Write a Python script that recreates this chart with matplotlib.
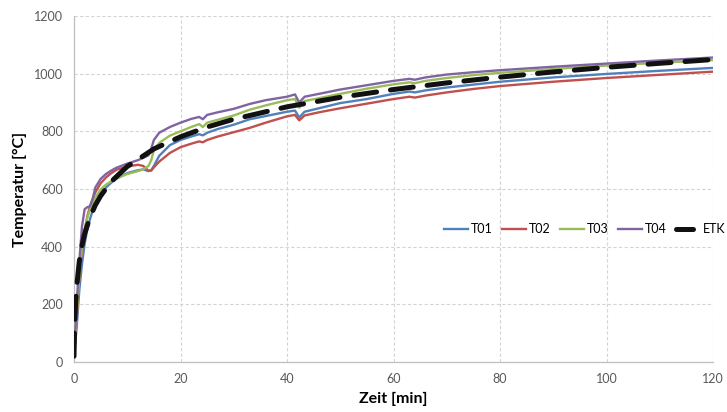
import matplotlib
matplotlib.use("Agg")
import matplotlib.pyplot as plt
from matplotlib.lines import Line2D

plt.rcParams['font.family'] = ['Lato', 'DejaVu Sans']

# Measurement times [min] for the thermocouples
zeit = [0, 0.5, 1, 1.5, 2, 2.5, 3, 3.5, 4, 5, 6, 7, 8, 10, 12, 13, 14, 14.5, 15, 16,
        18, 20, 22, 23.5, 24.2, 25, 27, 30, 33, 36, 40, 41.5, 42.3, 43.3, 46, 50, 55,
        60, 63, 64, 66, 70, 75, 80, 90, 100, 110, 120]

t01 = [20, 120, 250, 340, 410, 460, 495, 525, 548, 583, 605, 622, 636, 655, 665, 668, 662, 665, 680, 715,
       752, 770, 782, 790, 786, 795, 808, 823, 842, 853, 868, 872, 848, 868, 880, 898, 912,
       930, 938, 935, 942, 952, 962, 972, 987, 999, 1010, 1020]

t02 = [20, 150, 290, 390, 455, 505, 540, 565, 588, 620, 640, 655, 667, 678, 684, 680, 663, 664, 675, 695,
       725, 745, 757, 765, 762, 770, 782, 797, 812, 830, 852, 857, 838, 855, 866, 880, 896,
       912, 920, 917, 924, 935, 947, 957, 972, 985, 996, 1007]

t03 = [20, 160, 300, 400, 460, 500, 528, 550, 570, 598, 615, 627, 637, 652, 662, 668, 680, 700, 735, 760,
       785, 800, 815, 825, 815, 830, 840, 855, 875, 890, 908, 912, 882, 905, 915, 930, 948,
       963, 970, 967, 975, 985, 995, 1003, 1016, 1028, 1038, 1047]

t04 = [20, 200, 350, 470, 530, 537, 540, 565, 605, 635, 652, 664, 674, 688, 700, 708, 717, 740, 770, 795,
       815, 830, 843, 850, 842, 857, 866, 878, 895, 908, 920, 928, 900, 920, 930, 945, 960,
       975, 982, 979, 987, 997, 1005, 1012, 1024, 1035, 1046, 1056]

# Standard fire curve (ETK)
zeit_etk = [0, 0.1, 0.25, 0.5, 1, 1.5, 2, 3, 4, 5, 7, 10, 15, 20, 25, 30, 40, 50, 60,
            70, 80, 90, 100, 110, 120]
etk = [20, 108, 185, 261, 349, 404, 445, 502, 544, 576, 626, 678, 739, 781, 815, 842, 885,
       918, 945, 968, 988, 1006, 1022, 1036, 1049]

serien = [("T01", t01, "#4F81BD"), ("T02", t02, "#C0504D"),
          ("T03", t03, "#9BBB59"), ("T04", t04, "#8064A2")]

fig = plt.figure(figsize=(7.27, 4.12), dpi=100)
ax = fig.add_axes([74 / 727, 1 - 362 / 412, (713 - 74) / 727, (362 - 16) / 412])

handles = []
for name, werte, farbe in serien:
    ln, = ax.plot(zeit, werte, color=farbe, lw=1.7, label=name, zorder=3,
                  solid_joinstyle='round')
    handles.append(ln)
ax.plot(zeit_etk, etk, color="#111111", lw=3.6, dashes=(4.6, 2.8),
        dash_capstyle='round', zorder=4)
# shorter rounded bar for the legend entry of the standard curve
handles.append(Line2D([], [], color="#111111", lw=3.6, dashes=(3.4, 10),
                      dash_capstyle='round', label="ETK"))

ax.set_xlim(0, 120)
ax.set_ylim(0, 1200)
ax.set_xticks(range(0, 121, 20))
ax.set_yticks(range(0, 1201, 200))
ax.grid(True, color="#D4D4D4", linestyle=(0, (3, 2)), linewidth=0.8)
ax.set_axisbelow(True)
for side in ("top", "right"):
    ax.spines[side].set_visible(False)
for side in ("left", "bottom"):
    ax.spines[side].set_color("#BFBFBF")
    ax.spines[side].set_linewidth(0.9)
ax.tick_params(length=0, labelsize=9, colors="#595959", pad=8)

ax.set_xlabel("Zeit [min]", fontsize=11.5, fontweight="bold", labelpad=5)
ax.set_ylabel("Temperatur [°C]", fontsize=11.5, fontweight="bold", labelpad=5)

fig.legend(handles=handles, loc="center right",
           bbox_to_anchor=(726 / 727, 1 - 229 / 412),
           ncol=5, frameon=False, fontsize=9, handlelength=1.9,
           handletextpad=0.3, columnspacing=0.7, borderpad=0, borderaxespad=0)

fig.savefig("out.png", dpi=100)
